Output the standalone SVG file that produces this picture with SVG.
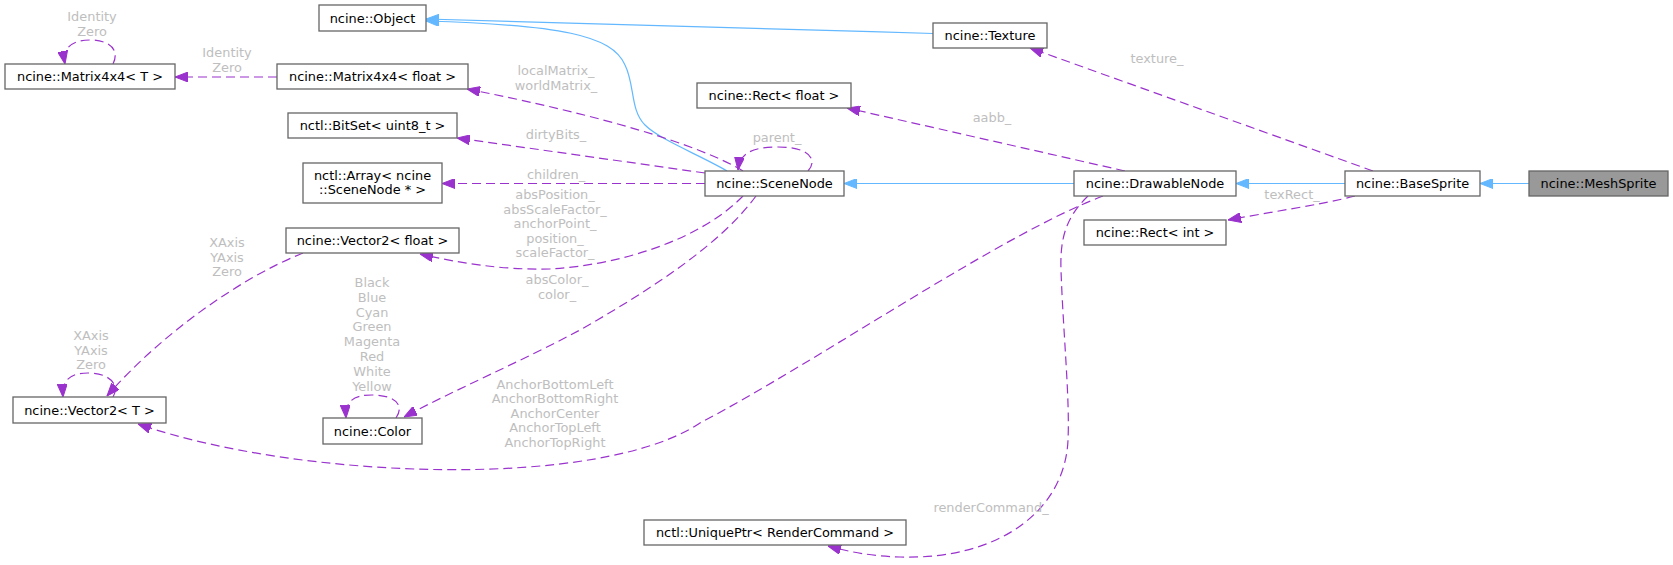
<svg xmlns="http://www.w3.org/2000/svg" width="1673" height="565" viewBox="0 0 1673 565">
<style>
.node rect{fill:#ffffff;stroke:#666666;stroke-width:1.3}
.node.main rect{fill:#999999}
.node text{font-family:"DejaVu Sans","Liberation Sans",sans-serif;font-size:12.9px;fill:#000000;text-anchor:middle}
.inh{fill:none;stroke:#63b8ff;stroke-width:1.2}
.use{fill:none;stroke:#9a32cd;stroke-width:1.2;stroke-dasharray:9,5}
.lbl{font-family:"DejaVu Sans","Liberation Sans",sans-serif;font-size:12.9px;fill:#bebebe;text-anchor:middle}
</style>
<defs>
<marker id="ab" viewBox="0 0 13 10" refX="13" refY="5" markerWidth="13" markerHeight="10" markerUnits="userSpaceOnUse" orient="auto">
<path d="M0,0 L13,5 L0,10 z" fill="#63b8ff" stroke="#63b8ff" stroke-width="1"/>
</marker>
<marker id="ap" viewBox="0 0 13 10" refX="13" refY="5" markerWidth="13" markerHeight="10" markerUnits="userSpaceOnUse" orient="auto">
<path d="M0,0 L13,5 L0,10 z" fill="#9a32cd" stroke="#9a32cd" stroke-width="1"/>
</marker>
</defs>
<rect width="1673" height="565" fill="#ffffff"/>

<g id="edges">
<!-- inheritance -->
<path class="inh" marker-end="url(#ab)" d="M933,33.5 C750,28 560,22 426,19"/>
<path class="inh" marker-end="url(#ab)" d="M727,171 C700,155 660,140 645,125 C630,110 635,85 625,65 C612,35 560,25 426,21"/>
<path class="inh" marker-end="url(#ab)" d="M1074,183.5 L844,183.5"/>
<path class="inh" marker-end="url(#ab)" d="M1345,183.5 L1236,183.5"/>
<path class="inh" marker-end="url(#ab)" d="M1529,183.5 L1480,183.5"/>
<!-- usage -->
<path class="use" marker-end="url(#ap)" d="M277,77 L175,77"/>
<path class="use" marker-end="url(#ap)" d="M113,64 C120,50 110,40 90,40 C72,40 62,48 65,64"/>
<path class="use" marker-end="url(#ap)" d="M743,171 C700,145 600,115 467,89"/>
<path class="use" marker-end="url(#ap)" d="M705,173 L457,138"/>
<path class="use" marker-end="url(#ap)" d="M705,183.5 L442,183.5"/>
<path class="use" marker-end="url(#ap)" d="M808,171 C818,160 810,147 778,147 C752,147 740,153 738,170"/>
<path class="use" marker-end="url(#ap)" d="M743,196 C700,240 620,265 550,269 C500,270 460,263 420,254"/>
<path class="use" marker-end="url(#ap)" d="M756,196 C720,245 650,290 580,330 C520,362 450,392 404,417"/>
<path class="use" marker-end="url(#ap)" d="M396,418 C405,405 395,395 372,395 C355,395 345,400 346,418"/>
<path class="use" marker-end="url(#ap)" d="M303,253 C240,278 160,335 107,396"/>
<path class="use" marker-end="url(#ap)" d="M113,397 C120,385 110,373 88,373 C70,373 62,380 63,397"/>
<path class="use" marker-end="url(#ap)" d="M1103,196 C1000,235 820,360 700,423 C600,490 300,480 138,424"/>
<path class="use" marker-end="url(#ap)" d="M1125,171 L847,108"/>
<path class="use" marker-end="url(#ap)" d="M1088,196 C1065,218 1060,240 1061,270 C1063,330 1070,400 1068,440 C1065,510 1000,560 900,557 C870,556 850,552 828,546"/>
<path class="use" marker-end="url(#ap)" d="M1373,171 L1030,48"/>
<path class="use" marker-end="url(#ap)" d="M1355,196 C1320,205 1270,212 1228,220"/>
<!-- labels -->
<text class="lbl" x="92" y="21">Identity</text>
<text class="lbl" x="92" y="36">Zero</text>
<text class="lbl" x="227" y="57">Identity</text>
<text class="lbl" x="227" y="72">Zero</text>
<text class="lbl" x="556" y="75">localMatrix_</text>
<text class="lbl" x="556" y="90">worldMatrix_</text>
<text class="lbl" x="556" y="139">dirtyBits_</text>
<text class="lbl" x="556" y="179">children_</text>
<text class="lbl" x="777" y="142">parent_</text>
<text class="lbl" x="555" y="199">absPosition_</text>
<text class="lbl" x="555" y="214">absScaleFactor_</text>
<text class="lbl" x="555" y="228">anchorPoint_</text>
<text class="lbl" x="555" y="243">position_</text>
<text class="lbl" x="555" y="257">scaleFactor_</text>
<text class="lbl" x="557" y="284">absColor_</text>
<text class="lbl" x="557" y="299">color_</text>
<text class="lbl" x="372" y="287">Black</text>
<text class="lbl" x="372" y="302">Blue</text>
<text class="lbl" x="372" y="317">Cyan</text>
<text class="lbl" x="372" y="331">Green</text>
<text class="lbl" x="372" y="346">Magenta</text>
<text class="lbl" x="372" y="361">Red</text>
<text class="lbl" x="372" y="376">White</text>
<text class="lbl" x="372" y="391">Yellow</text>
<text class="lbl" x="227" y="247">XAxis</text>
<text class="lbl" x="227" y="262">YAxis</text>
<text class="lbl" x="227" y="276">Zero</text>
<text class="lbl" x="91" y="340">XAxis</text>
<text class="lbl" x="91" y="355">YAxis</text>
<text class="lbl" x="91" y="369">Zero</text>
<text class="lbl" x="555" y="389">AnchorBottomLeft</text>
<text class="lbl" x="555" y="403">AnchorBottomRight</text>
<text class="lbl" x="555" y="418">AnchorCenter</text>
<text class="lbl" x="555" y="432">AnchorTopLeft</text>
<text class="lbl" x="555" y="447">AnchorTopRight</text>
<text class="lbl" x="992" y="122">aabb_</text>
<text class="lbl" x="991" y="512">renderCommand_</text>
<text class="lbl" x="1157" y="63">texture_</text>
<text class="lbl" x="1292" y="199">texRect_</text>
</g>

<g id="node-object" class="node"><rect x="319" y="5" width="107" height="26"/><text x="372.5" y="22.5">ncine::Object</text></g>
<g id="node-matrix-t" class="node"><rect x="5" y="64" width="170" height="25"/><text x="90" y="81">ncine::Matrix4x4&lt; T &gt;</text></g>
<g id="node-matrix-float" class="node"><rect x="277" y="64" width="191" height="25"/><text x="372.5" y="81">ncine::Matrix4x4&lt; float &gt;</text></g>
<g id="node-bitset" class="node"><rect x="288" y="113" width="169" height="25"/><text x="372.5" y="130">nctl::BitSet&lt; uint8_t &gt;</text></g>
<g id="node-array" class="node"><rect x="303" y="163" width="139" height="40"/><text x="372.5" y="179.5">nctl::Array&lt; ncine</text><text x="372.5" y="194">::SceneNode * &gt;</text></g>
<g id="node-vector2-float" class="node"><rect x="286" y="228" width="173" height="25"/><text x="372.5" y="245">ncine::Vector2&lt; float &gt;</text></g>
<g id="node-vector2-t" class="node"><rect x="13" y="397" width="153" height="26"/><text x="89.5" y="414.5">ncine::Vector2&lt; T &gt;</text></g>
<g id="node-color" class="node"><rect x="323" y="418" width="99" height="26"/><text x="372.5" y="435.5">ncine::Color</text></g>
<g id="node-uniqueptr" class="node"><rect x="644" y="520" width="262" height="25"/><text x="775" y="537">nctl::UniquePtr&lt; RenderCommand &gt;</text></g>
<g id="node-scenenode" class="node"><rect x="705" y="171" width="139" height="25"/><text x="774.5" y="188">ncine::SceneNode</text></g>
<g id="node-rect-float" class="node"><rect x="697" y="83" width="154" height="25"/><text x="774" y="100">ncine::Rect&lt; float &gt;</text></g>
<g id="node-texture" class="node"><rect x="933" y="23" width="114" height="25"/><text x="990" y="40">ncine::Texture</text></g>
<g id="node-drawablenode" class="node"><rect x="1074" y="171" width="162" height="25"/><text x="1155" y="188">ncine::DrawableNode</text></g>
<g id="node-rect-int" class="node"><rect x="1084" y="220" width="142" height="25"/><text x="1155" y="237">ncine::Rect&lt; int &gt;</text></g>
<g id="node-basesprite" class="node"><rect x="1345" y="171" width="135" height="25"/><text x="1412.5" y="188">ncine::BaseSprite</text></g>
<g id="node-meshsprite" class="node main"><rect x="1529" y="171" width="139" height="25"/><text x="1598.5" y="188">ncine::MeshSprite</text></g>
</svg>
